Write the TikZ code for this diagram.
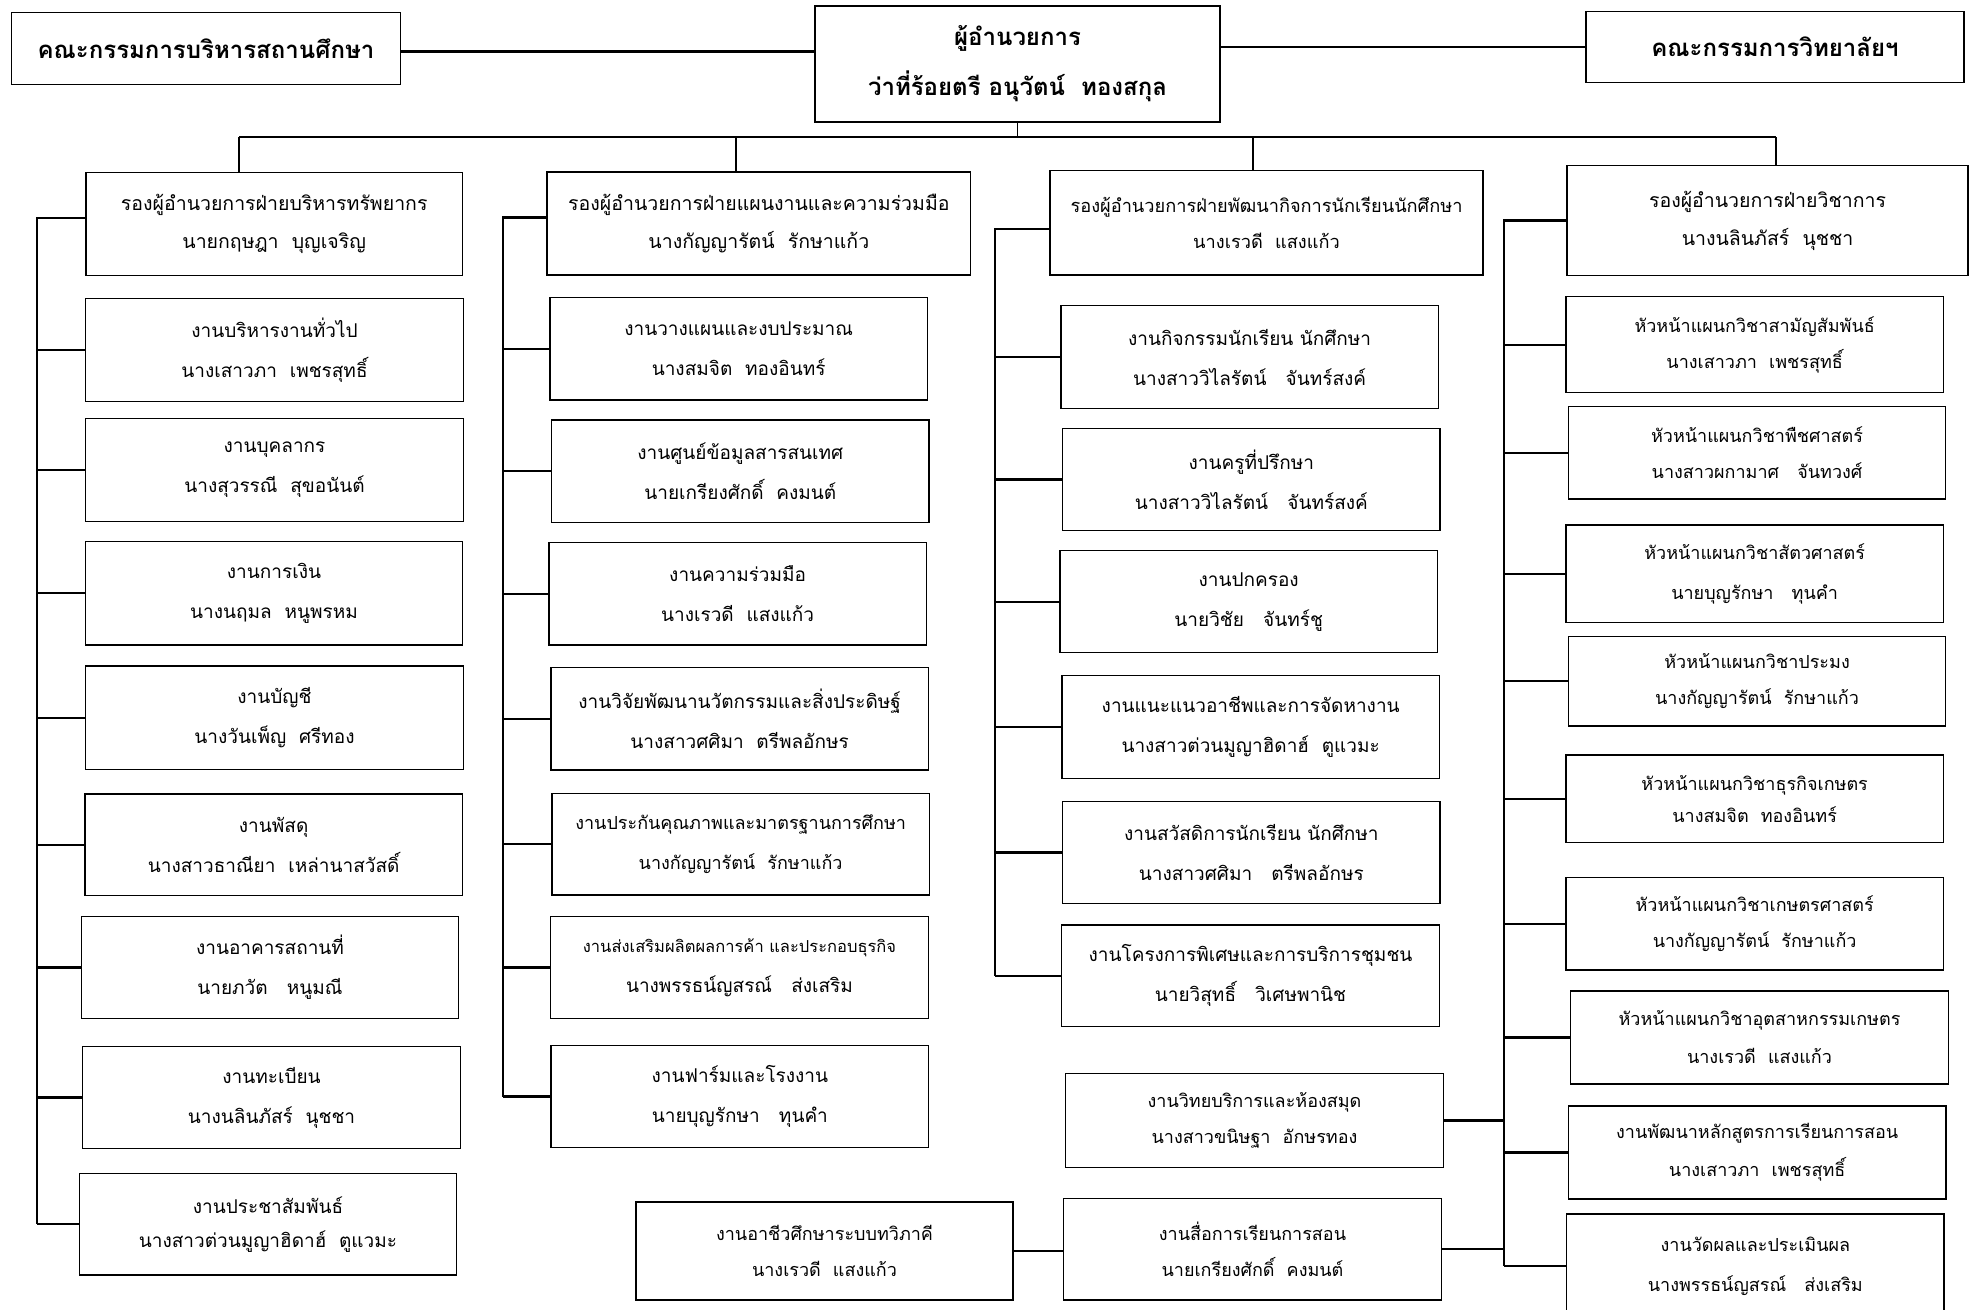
\documentclass[tikz,border=0pt]{standalone}
\usepackage{fontspec}
\setmainfont[Script=Thai]{Loma}
\usetikzlibrary{positioning}
\tikzset{wbox/.style={draw,line width=1.2pt,align=center,inner sep=0pt,
  font=\fontsize{19}{40}\selectfont}}
\newcommand\orgbox[7][]{\node[wbox,#1,minimum width={#5-#3},minimum height={#6-#4}]
  (#2) at ({(#3+#5)/2},{(#4+#6)/2}) {#7};}

\begin{document}
\begin{tikzpicture}[x=1pt,y=-1pt,
head/.style={font=\bfseries\fontsize{24}{50}\selectfont},
link/.style={line width=2.2pt},
drop/.style={line width=1.3pt}]
\useasboundingbox[fill=white] (0,0) rectangle (1975,1309);
\orgbox[head]{board}{11.5}{12.7}{400.5}{84.3}{คณะกรรมการบริหารสถานศึกษา}
\orgbox[head]{dir}{815}{6}{1220}{122}{ผู้อำนวยการ\\ว่าที่ร้อยตรี อนุวัตน์~~ทองสกุล}
\orgbox[head]{coll}{1586}{11.7}{1964}{82.7}{คณะกรรมการวิทยาลัยฯ}
\orgbox[font=\fontsize{19.5}{38}\selectfont]{dep1}{86}{172.3}{462.4}{275.3}{รองผู้อำนวยการฝ่ายบริหารทรัพยากร\\นายกฤษฎา~~บุญเจริญ}
\orgbox[font=\fontsize{19.5}{38}\selectfont]{dep2}{547}{172}{970.7}{275}{รองผู้อำนวยการฝ่ายแผนงานและความร่วมมือ\\นางกัญญารัตน์~~รักษาแก้ว}
\orgbox[font=\fontsize{18.2}{36}\selectfont]{dep3}{1050}{170.7}{1483}{275}{รองผู้อำนวยการฝ่ายพัฒนากิจการนักเรียนนักศึกษา\\นางเรวดี~~แสงแก้ว}
\orgbox[font=\fontsize{19.5}{38}\selectfont]{dep4}{1567}{165.7}{1968}{275.3}{รองผู้อำนวยการฝ่ายวิชาการ\\นางนลินภัสร์~~นุชชา}
\orgbox{c1a}{85.7}{298.3}{463.3}{401.7}{งานบริหารงานทั่วไป\\นางเสาวภา~~เพชรสุทธิ์}
\orgbox{c1b}{85.7}{418.3}{463.3}{521.7}{งานบุคลากร\\นางสุวรรณี~~สุขอนันต์}
\orgbox{c1c}{85.3}{541.7}{462.7}{645}{งานการเงิน\\นางนฤมล~~หนูพรหม}
\orgbox{c1d}{85.7}{666}{463.3}{769.3}{งานบัญชี\\นางวันเพ็ญ~~ศรีทอง}
\orgbox{c1e}{85}{794}{462.3}{895.7}{งานพัสดุ\\นางสาวธาณียา~~เหล่านาสวัสดิ์}
\orgbox{c1f}{81.3}{916.7}{458.7}{1018.3}{งานอาคารสถานที่\\นายภวัต~~~หนูมณี}
\orgbox{c1g}{82.7}{1046.7}{460.3}{1148.3}{งานทะเบียน\\นางนลินภัสร์~~นุชชา}
\orgbox[font=\fontsize{19}{34}\selectfont]{c1h}{79.3}{1173.3}{456.7}{1275}{งานประชาสัมพันธ์\\นางสาวต่วนมูญาฮิดาฮ์~~ตูแวมะ}
\orgbox{c2a}{550}{297.3}{927.3}{400}{งานวางแผนและงบประมาณ\\นางสมจิต~~ทองอินทร์}
\orgbox{c2b}{551.7}{420}{929}{522.7}{งานศูนย์ข้อมูลสารสนเทศ\\นายเกรียงศักดิ์~~คงมนต์}
\orgbox{c2c}{549}{542.3}{926.3}{645}{งานความร่วมมือ\\นางเรวดี~~แสงแก้ว}
\orgbox{c2d}{551}{667.3}{928.3}{770}{งานวิจัยพัฒนานวัตกรรมและสิ่งประดิษฐ์\\นางสาวศศิมา~~ตรีพลอักษร}
\orgbox[font=\fontsize{18}{40}\selectfont]{c2e}{552}{793.3}{929.3}{895}{งานประกันคุณภาพและมาตรฐานการศึกษา\\นางกัญญารัตน์~~รักษาแก้ว}
\orgbox[font=\fontsize{16.5}{40}\selectfont]{c2f}{550.7}{916.7}{928.3}{1018.3}{งานส่งเสริมผลิตผลการค้า และประกอบธุรกิจ\\{\fontsize{19}{40}\selectfont นางพรรธน์ญสรณ์~~~ส่งเสริม}}
\orgbox{c2g}{551}{1045.7}{928.7}{1147.3}{งานฟาร์มและโรงงาน\\นายบุญรักษา~~~ทุนคำ}
\orgbox[font=\fontsize{18}{36}\selectfont]{dual}{636}{1202}{1013}{1300}{งานอาชีวศึกษาระบบทวิภาคี\\นางเรวดี~~แสงแก้ว}
\orgbox{c3a}{1061}{305.7}{1438.3}{408.3}{งานกิจกรรมนักเรียน นักศึกษา\\นางสาววิไลรัตน์~~~จันทร์สงค์}
\orgbox{c3b}{1062.7}{428.3}{1440}{530.7}{งานครูที่ปรึกษา\\นางสาววิไลรัตน์~~~จันทร์สงค์}
\orgbox{c3c}{1060}{550.7}{1437.3}{652.7}{งานปกครอง\\นายวิชัย~~~จันทร์ชู}
\orgbox{c3d}{1062}{675.7}{1439.3}{778.3}{งานแนะแนวอาชีพและการจัดหางาน\\นางสาวต่วนมูญาฮิดาฮ์~~ตูแวมะ}
\orgbox{c3e}{1062.7}{801.7}{1440}{903.3}{งานสวัสดิการนักเรียน นักศึกษา\\นางสาวศศิมา~~~ตรีพลอักษร}
\orgbox{c3f}{1061.7}{925}{1439.3}{1026.7}{งานโครงการพิเศษและการบริการชุมชน\\นายวิสุทธิ์~~~วิเศษพานิช}
\orgbox[font=\fontsize{18}{36}\selectfont]{c3g}{1065.7}{1073.3}{1443.3}{1167.7}{งานวิทยบริการและห้องสมุด\\นางสาวขนิษฐา~~อักษรทอง}
\orgbox[font=\fontsize{18}{36}\selectfont]{c3h}{1063.3}{1198.3}{1441.7}{1300}{งานสื่อการเรียนการสอน\\นายเกรียงศักดิ์~~คงมนต์}
\orgbox[font=\fontsize{18}{36}\selectfont]{c4a}{1566}{296.7}{1943.3}{392.7}{หัวหน้าแผนกวิชาสามัญสัมพันธ์\\นางเสาวภา~~เพชรสุทธิ์}
\orgbox[font=\fontsize{18}{36}\selectfont]{c4b}{1568.3}{406.7}{1945.7}{499}{หัวหน้าแผนกวิชาพืชศาสตร์\\นางสาวผกามาศ~~~จันทวงศ์}
\orgbox[font=\fontsize{18}{40}\selectfont]{c4c}{1566}{525}{1943.3}{622.7}{หัวหน้าแผนกวิชาสัตวศาสตร์\\นายบุญรักษา~~~ทุนคำ}
\orgbox[font=\fontsize{18}{36}\selectfont]{c4d}{1568.3}{636.7}{1945.7}{726}{หัวหน้าแผนกวิชาประมง\\นางกัญญารัตน์~~รักษาแก้ว}
\orgbox[font=\fontsize{18}{32}\selectfont]{c4e}{1566}{755}{1943.3}{842.3}{หัวหน้าแผนกวิชาธุรกิจเกษตร\\นางสมจิต~~ทองอินทร์}
\orgbox[font=\fontsize{18}{36}\selectfont]{c4f}{1566}{877.3}{1943.3}{970}{หัวหน้าแผนกวิชาเกษตรศาสตร์\\นางกัญญารัตน์~~รักษาแก้ว}
\orgbox[font=\fontsize{18}{38}\selectfont]{c4g}{1570.7}{991}{1948.3}{1084}{หัวหน้าแผนกวิชาอุตสาหกรรมเกษตร\\นางเรวดี~~แสงแก้ว}
\orgbox[font=\fontsize{18}{38}\selectfont]{c4h}{1568.3}{1106}{1946}{1199}{งานพัฒนาหลักสูตรการเรียนการสอน\\นางเสาวภา~~เพชรสุทธิ์}
\orgbox[font=\fontsize{18}{40}\selectfont]{c4i}{1566.7}{1214}{1944}{1318}{งานวัดผลและประเมินผล\\นางพรรธน์ญสรณ์~~~ส่งเสริม}
\draw[link] ([yshift=-3pt]board.east) -- ([yshift=-3pt]board.east -| dir.west);
\draw[link] (dir.east |- coll.west) -- (coll.west);
\coordinate (b1) at (239,137);
\coordinate (b2) at (736,137);
\coordinate (b3) at (1253,137);
\coordinate (b4) at (1776,137);
\draw[drop] (dir.south) -- (dir.south |- b1);
\draw[link] (b1) -- (b4);
\foreach \b/\d in {b1/dep1,b2/dep2,b3/dep3,b4/dep4}
  \draw[drop] (\b) -- (\b |- \d.north);
\coordinate (t1) at (37,0);
\coordinate (t2) at (503,0);
\coordinate (t3) at (995,0);
\coordinate (t4) at (1504,0);
\draw[link] ([yshift=6pt]dep1.west) -| (t1 |- c1h.west);
\draw[link] ([yshift=6pt]dep2.west) -| (t2 |- c2g.west);
\draw[link] ([yshift=-6pt]dep3.west) -| (t3 |- c3f.west);
\draw[link] (dep4.west) -| (t4 |- c4i.west);
\foreach \n in {c1a,c1b,c1c,c1d,c1e,c1f,c1g,c1h}
  \draw[link] (t1 |- \n.west) -- (\n.west);
\foreach \n in {c2a,c2b,c2c,c2d,c2e,c2f,c2g}
  \draw[link] (t2 |- \n.west) -- (\n.west);
\foreach \n in {c3a,c3b,c3c,c3d,c3e,c3f}
  \draw[link] (t3 |- \n.west) -- (\n.west);
\foreach \n in {c4a,c4b,c4c,c4d,c4e,c4f,c4g,c4h,c4i}
  \draw[link] (t4 |- \n.west) -- (\n.west);
\draw[link] (c3g.east) -- (c3g.east -| t4);
\draw[link] (c3h.east) -- (c3h.east -| t4);
\draw[link] (dual.east) -- (dual.east -| c3h.west);
\end{tikzpicture}
\end{document}
